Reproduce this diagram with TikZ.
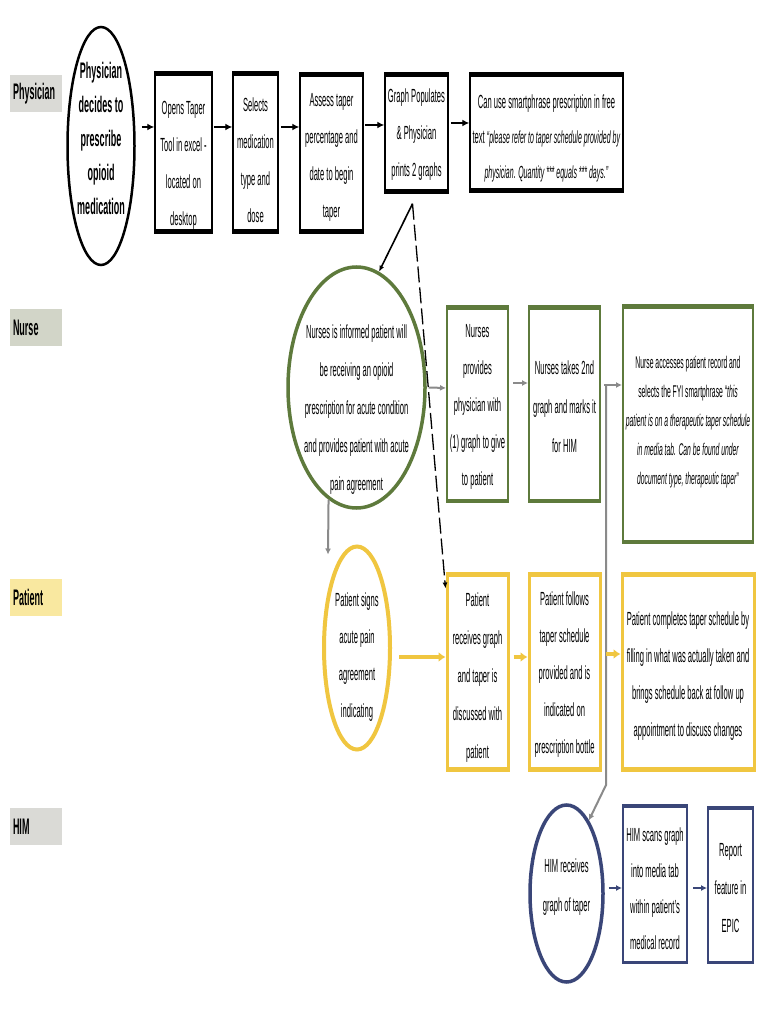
\documentclass[tikz,border=0pt]{standalone}
\usepackage{fontspec}
\setmainfont{Liberation Sans}[FakeStretch=0.40]
\usetikzlibrary{shapes.geometric,arrows.meta}
\definecolor{grn}{RGB}{94,122,60}
\definecolor{ylw}{RGB}{240,198,64}
\definecolor{blu}{RGB}{58,70,120}
\definecolor{gry}{RGB}{138,138,138}
\definecolor{labgray}{RGB}{218,218,214}
\definecolor{labnurse}{RGB}{210,213,200}
\definecolor{labpat}{RGB}{249,232,160}
\newcommand\bbars[4]{%
  \fill[#2] (#1.north west) rectangle ([yshift=-#3]#1.north east);
  \fill[#2] (#1.south west) rectangle ([yshift=#4]#1.south east);}
\begin{document}
\begin{tikzpicture}[x=1pt,y=-1pt,
  txt/.style={align=center, inner sep=0pt, font=\fontsize{19}{37}\selectfont},
  btxt/.style={align=center, inner sep=0pt, font=\fontsize{22.5}{34}\selectfont\bfseries},
  lab/.style={text width=46pt, inner xsep=3pt, inner ysep=0pt, align=left, minimum height=37pt, font=\fontsize{22.5}{26}\selectfont\bfseries},
  ell/.style={ellipse, inner sep=0pt},
  box/.style={rectangle, inner sep=0pt},
  pbox/.style={box, draw=black, line width=1.5pt},
  nbox/.style={box, draw=grn, line width=2pt},
  tbox/.style={box, draw=ylw, line width=3pt},
  hbox/.style={box, draw=blu, line width=2pt},
  parr/.style={draw=black, line width=2pt, -{Latex[length=7pt,width=7pt]}},
  narr/.style={draw=gry, line width=2pt, -{Latex[length=6pt,width=6pt]}},
  yarr/.style={draw=ylw, line width=4pt, -{Latex[length=7pt,width=10pt]}},
  harr/.style={draw=blu, line width=2pt, -{Latex[length=6pt,width=6pt]}},
  link/.style={draw=black, line width=1.6pt, -{Latex[length=6pt,width=5pt]}}
]
\useasboundingbox[fill=white] (0,0) rectangle (770,1024);

% lane labels
\node[lab, fill=labgray] (Lphys) at (36,93.5) {Physician};
\node[lab, fill=labnurse] (Lnurse) at (36,327.5) {Nurse};
\node[lab, fill=labpat] (Lpat) at (36,597.5) {Patient};
\node[lab, fill=labgray] (Lhim) at (36,826.5) {HIM};

% physician row
\node[ell, draw=black, line width=2.5pt, minimum width=67pt, minimum height=238pt] (pe) at (101,146) {};
\node[btxt] (pet) at (101,138) {Physician\\decides to\\prescribe\\opioid\\medication};
\node[pbox, minimum width=57pt, minimum height=161pt] (b1) at (183.5,152.5) {};
\node[txt] (b1t) at (183.5,165) {Opens Taper\\Tool in excel -\\located on\\desktop};
\node[pbox, minimum width=45pt, minimum height=161pt] (b2) at (255.5,152.5) {};
\node[txt] (b2t) at (255.5,160) {Selects\\medication\\type and\\dose};
\node[pbox, minimum width=63pt, minimum height=160pt] (b3) at (331.5,153) {};
\node[txt] (b3t) at (331.5,157) {Assess taper\\percentage and\\date to begin\\taper};
\node[pbox, minimum width=63pt, minimum height=120pt] (b4) at (416.5,133) {};
\node[txt] (b4t) at (416.5,135) {Graph Populates\\\& Physician\\prints 2 graphs};
\node[pbox, minimum width=153pt, minimum height=119pt] (b5) at (546.5,132.5) {};
\node[txt, font=\fontsize{19}{35}\selectfont] (b5t) at (546.5,138) {Can use smartphrase prescription in free\\text {\fontsize{17.5}{35}\selectfont\textit{“please refer to taper schedule provided by}}\\{\fontsize{17.5}{35}\selectfont\textit{physician. Quantity *** equals *** days.”}}};
\bbars{b1}{black}{5pt}{5pt}
\bbars{b2}{black}{5pt}{5pt}
\bbars{b3}{black}{5pt}{5pt}
\bbars{b4}{black}{5pt}{5pt}
\bbars{b5}{black}{5pt}{5pt}

\draw[parr] ([shift={(6,-19)}]pe.east) -- ([shift={(0,-25.5)}]b1.west);
\draw[parr] ([shift={(1,-25.5)}]b1.east) -- ([shift={(0,-25.5)}]b2.west);
\draw[parr] ([shift={(2,-25.5)}]b2.east) -- ([shift={(0,-26)}]b3.west);
\draw[parr] ([shift={(1,-28)}]b3.east) -- ([shift={(0,-8)}]b4.west);
\draw[parr] ([shift={(2,-10)}]b4.east) -- ([shift={(0,-9.5)}]b5.west);

% nurse row
\node[ell, draw=grn, line width=3.5pt, minimum width=137pt, minimum height=241pt] (ne) at (356.5,387.5) {};
\node[txt, font=\fontsize{19}{38}\selectfont] (net) at (356.5,410) {Nurses is informed patient will\\be receiving an opioid\\prescription for acute condition\\and provides patient with acute\\pain agreement};
\node[nbox, minimum width=61pt, minimum height=196pt] (nb1) at (477.5,404) {};
\node[txt] (nb1t) at (477.5,407) {Nurses\\provides\\physician with\\(1) graph to give\\to patient};
\node[nbox, minimum width=71pt, minimum height=196pt] (nb2) at (564.5,404) {};
\node[txt, font=\fontsize{19}{39}\selectfont] (nb2t) at (564.5,407) {Nurses takes 2nd\\graph and marks it\\for HIM};
\node[nbox, minimum width=130pt, minimum height=238pt] (nb3) at (688,424) {};
\node[txt, font=\fontsize{17}{29}\selectfont] (nb3t) at (688,422) {Nurse accesses patient record and\\selects the FYI smartphrase “\textit{this}\\\textit{patient is on a therapeutic taper schedule}\\\textit{in media tab. Can be found under}\\\textit{document type, therapeutic taper}”};
\bbars{nb1}{grn}{5pt}{4pt}
\bbars{nb2}{grn}{5pt}{4pt}
\bbars{nb3}{grn}{5pt}{4pt}

% patient row
\node[ell, draw=ylw, line width=4pt, minimum width=66pt, minimum height=203pt] (pae) at (357,648) {};
\node[txt] (paet) at (357,657) {Patient signs\\acute pain\\agreement\\indicating};
\node[tbox, minimum width=61pt, minimum height=197pt] (pb1) at (477.5,671.5) {};
\node[txt, font=\fontsize{19}{38}\selectfont] (pb1t) at (477.5,678) {Patient\\receives graph\\and taper is\\discussed with\\patient};
\node[tbox, minimum width=71pt, minimum height=197pt] (pb2) at (564.5,671.5) {};
\node[txt] (pb2t) at (564.5,675) {Patient follows\\taper schedule\\provided and is\\indicated on\\prescription bottle};
\node[tbox, minimum width=132pt, minimum height=197pt] (pb3) at (688,671.5) {};
\node[txt] (pb3t) at (688,676) {Patient completes taper schedule by\\filling in what was actually taken and\\brings schedule back at follow up\\appointment to discuss changes};
\bbars{pb1}{ylw}{5pt}{5pt}
\bbars{pb2}{ylw}{5pt}{5pt}
\bbars{pb3}{ylw}{5pt}{5pt}

% HIM row
\node[ell, draw=blu, line width=3.5pt, minimum width=73pt, minimum height=177pt] (he) at (566.5,893.5) {};
\node[txt, font=\fontsize{19}{39}\selectfont] (het) at (566.5,887) {HIM receives\\graph of taper};
\node[hbox, minimum width=64pt, minimum height=158pt] (hb1) at (655,884) {};
\node[txt, font=\fontsize{19}{36}\selectfont] (hb1t) at (655,889) {HIM scans graph\\into media tab\\within patient's\\medical record};
\node[hbox, minimum width=45pt, minimum height=156pt] (hb2) at (730.5,885) {};
\node[txt, font=\fontsize{19}{38}\selectfont] (hb2t) at (730.5,888) {Report\\feature in\\EPIC};
\bbars{hb1}{blu}{4pt}{3pt}
\bbars{hb2}{blu}{4pt}{3pt}

% connectors
\coordinate (sp) at ([shift={(-4,10)}]b4.south);
\draw[link] (sp) -- (ne.79);
\draw[link, line width=1.3pt, dash pattern=on 16pt off 5pt] (sp) -- ([shift={(0,17)}]pb1.north west);

\draw[narr] ([shift={(2,0)}]ne.east) -- ([shift={(0,-16)}]nb1.west);
\draw[narr] ([shift={(4,-21)}]nb1.east) -- ([shift={(0,-21)}]nb2.west);
\draw[narr] ([shift={(3,-19)}]nb2.east) -- ([shift={(0,-39)}]nb3.west);
\draw[narr] (ne.256) -- ([shift={(-29,10)}]pae.north);
\draw[narr] ([shift={(5,-19)}]nb2.east) -- ([shift={(5,381)}]nb2.east) -- (he.73);

\draw[yarr] ([shift={(7,9)}]pae.east) -- ([shift={(0,-14.5)}]pb1.west);
\draw[yarr] ([shift={(4,-14.5)}]pb1.east) -- ([shift={(0,-14.5)}]pb2.west);
\draw[yarr] ([shift={(4,-17.5)}]pb2.east) -- ([shift={(0,-17.5)}]pb3.west);

\draw[harr] ([shift={(4,-5.5)}]he.east) -- ([shift={(0,4)}]hb1.west);
\draw[harr] ([shift={(5,4)}]hb1.east) -- ([shift={(0,3)}]hb2.west);
\end{tikzpicture}
\end{document}
